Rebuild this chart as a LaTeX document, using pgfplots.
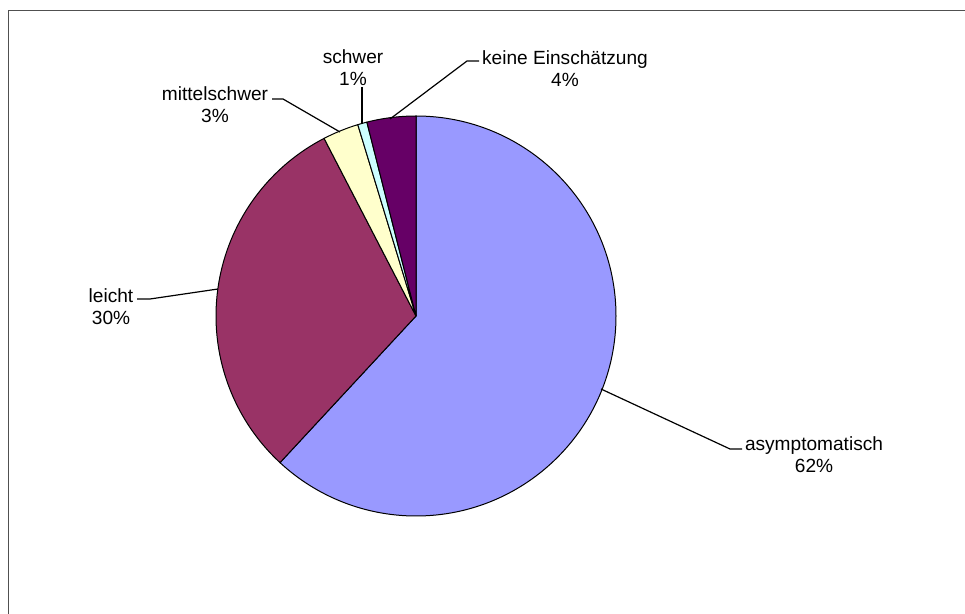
\documentclass[border=0pt]{standalone}
\usepackage{pgfplots}
\pgfplotsset{compat=1.18}
\usepackage{pgfplotstable}
\usepackage{fontspec}
\setmainfont{Liberation Sans}
\definecolor{c0}{HTML}{9999FF}
\definecolor{c1}{HTML}{993366}
\definecolor{c2}{HTML}{FFFFCC}
\definecolor{c3}{HTML}{CCFFFF}
\definecolor{c4}{HTML}{660066}
\definecolor{frame}{HTML}{505050}

\pgfplotstableread{
label value
asymptomatisch 61.9
leicht 30.5
mittelschwer 2.9
schwer 0.75
keine 3.95
}\piedata

\begin{document}
\begin{tikzpicture}
\xdef\cum{90}
\foreach \i in {0,...,4}{%
  \pgfplotstablegetelem{\i}{value}\of\piedata
  \pgfmathsetmacro\e{\cum-\pgfplotsretval*3.6}%
  \expandafter\xdef\csname sa\i\endcsname{\cum}%
  \expandafter\xdef\csname ea\i\endcsname{\e}%
  \xdef\cum{\e}%
}
\begin{axis}[x=0.5pt,y=0.5pt,xmin=0,xmax=965,ymin=0,ymax=614,
  y dir=reverse,hide axis,clip=false,scale only axis]
\pgfplotsinvokeforeach{0,1,2,3,4}{%
  \edef\temp{\noexpand\filldraw[fill=c#1,draw=black,line width=0.5pt,line join=round] (axis cs:416,316) -- ++(\csname sa#1\endcsname:100pt) arc[start angle=\csname sa#1\endcsname, end angle=\csname ea#1\endcsname, radius=100pt] -- cycle;}%
  \temp
}
\draw[line width=0.6pt] (axis cs:601,389) -- (axis cs:730,449) -- (axis cs:742,449);
\draw[line width=0.6pt] (axis cs:137,299) -- (axis cs:150,299) -- (axis cs:218,289);
\draw[line width=0.6pt] (axis cs:272,99) -- (axis cs:283,99) -- (axis cs:340,132);
\draw[line width=0.6pt] (axis cs:362,87) -- (axis cs:362,124);
\draw[line width=0.6pt] (axis cs:479,61) -- (axis cs:467,61) -- (axis cs:390,119);
\tikzset{lbl/.style={align=center,inner sep=0pt,font=\fontsize{9.55}{11}\selectfont}}
\node[lbl] at (axis cs:814,455) {asymptomatisch\\62\%};
\node[lbl] at (axis cs:111,307) {leicht\\30\%};
\node[lbl] at (axis cs:215,105) {mittelschwer\\3\%};
\node[lbl] at (axis cs:353,68) {schwer\\1\%};
\node[lbl] at (axis cs:565,69) {keine Einschätzung\\4\%};
\draw[line width=0.9pt,color=frame] (axis cs:8.5,700) -- (axis cs:8.5,10.5) -- (axis cs:1000,10.5);
\end{axis}
\pgfresetboundingbox
\path[use as bounding box] (current axis.south west) rectangle (current axis.north east);
\end{tikzpicture}
\end{document}
